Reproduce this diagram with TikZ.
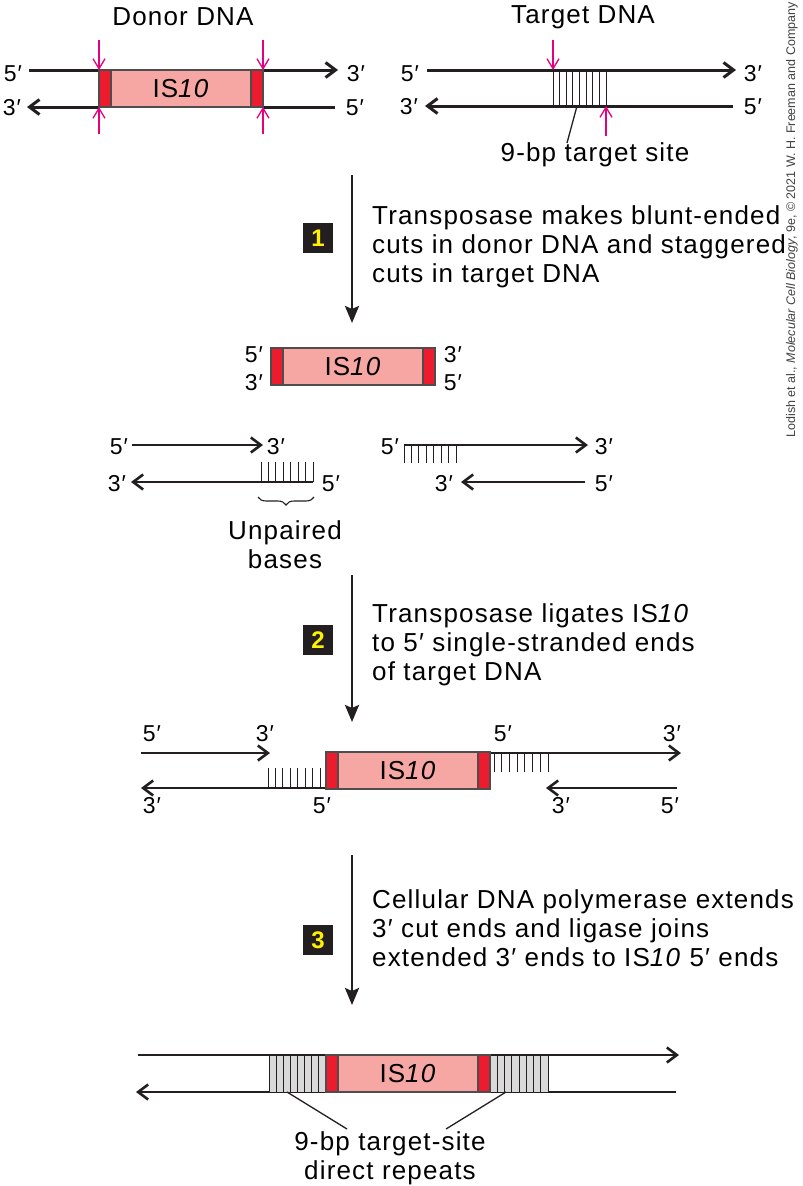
\documentclass[tikz,border=0pt]{standalone}
\usepackage{fontspec}
\setmainfont{Liberation Sans}[LetterSpace=4.5]
\newfontfamily\creditfont{Liberation Sans}
\usetikzlibrary{arrows.meta,decorations.pathreplacing}

\definecolor{ispink}{HTML}{F7A7A3}
\definecolor{isred}{HTML}{EC1C2E}
\definecolor{cutmag}{HTML}{E5007E}
\definecolor{numboxfill}{HTML}{231F20}
\definecolor{numtxt}{HTML}{FFF200}
\definecolor{dupgray}{HTML}{D9D9D9}
\definecolor{ink}{HTML}{231F20}

\tikzset{
  txt/.style={font=\fontsize{26}{29}\selectfont, inner sep=0pt},
  lab/.style={font=\fontsize{23}{26}\selectfont, inner sep=0pt},
  steptext/.style={txt, align=left, anchor=north west},
  strand/.style={draw=ink, line width=3pt},
  thinstrand/.style={draw=ink, line width=2.6pt},
  head/.style={-{Straight Barb[length=10pt,width=15pt]}},
  hatch/.style={draw=ink, line width=1pt},
  cutarrow/.style={draw=cutmag, line width=1.3pt, -{Straight Barb[length=10pt,width=12pt]}},
  stepline/.style={draw=ink, line width=2.6pt, -{Stealth[length=17pt,width=14pt,inset=3pt]}},
  numbox/.style={fill=numboxfill, text=numtxt, minimum size=30pt, inner sep=0pt,
                 font=\fontsize{24}{24}\selectfont\bfseries},
  boxedge/.style={draw=ink!80, line width=1.2pt},
  istext/.style={txt},
  credit/.style={font=\creditfont\fontsize{12.5}{12.5}\selectfont, text=ink!85, rotate=90, inner sep=0pt},
  pointer/.style={draw=ink, line width=1.3pt},
}

% IS10 element: #1 name, #2 left x, #3 top y, #4 bottom y
\newcommand\ISelement[4]{%
  \fill[ispink] ({#2+12},#3) rectangle ({#2+152},#4);
  \fill[isred] (#2,#3) rectangle ({#2+12},#4);
  \fill[isred] ({#2+152},#3) rectangle ({#2+164},#4);
  \draw[boxedge] (#2,#3) rectangle ({#2+164},#4);
  \draw[boxedge] ({#2+12},#3) -- ({#2+12},#4) ({#2+152},#3) -- ({#2+152},#4);
  \node[istext] (#1) at ({#2+82},{(#3+#4)/2}) {IS\textit{10}};
}

\begin{document}
\begin{tikzpicture}[x=1pt,y=-1pt]
\fill[white] (0,0) rectangle (803,1186);
\useasboundingbox (0,0) rectangle (803,1186);

% ---------- donor and target DNA ----------
\node[txt] (donorT) at (183,17) {Donor DNA};
\node[txt] (targetT) at (583,17) {Target DNA};

\draw[strand] (29,70) -- (99,70);
\draw[strand,head] (263,70) -- (338,70);
\draw[strand,head] (99,107) -- (27,107);
\draw[strand] (263,107) -- (335,107);
\ISelement{donorIS}{99}{70}{107}
\node[lab] (d5a) at (13,74) {5′};
\node[lab] (d3a) at (12,108) {3′};
\node[lab] (d3b) at (356,74) {3′};
\node[lab] (d5b) at (355,108) {5′};
\draw[cutarrow] (99,40) -- (99,70);
\draw[cutarrow] (263,40) -- (263,70);
\draw[cutarrow] (99,134) -- (99,107);
\draw[cutarrow] (263,134) -- (263,107);

\foreach \i in {0,...,8} \draw[hatch] ({553+\i*53/8},70) -- ++(0,36);
\draw[strand,head] (427,70) -- (736,70);
\draw[strand,head] (733,106) -- (425,106);
\node[lab] (t5a) at (410,74) {5′};
\node[lab] (t3a) at (409,107) {3′};
\node[lab] (t3b) at (753,74) {3′};
\node[lab] (t5b) at (753,107) {5′};
\draw[cutarrow] (553,40) -- (553,70);
\draw[cutarrow] (606,136) -- (606,106);
\node[txt] (siteL) at (595,155) {9-bp target site};
\coordinate (siteP) at (577,106);
\draw[pointer] (siteP) -- (567,143);

% ---------- step 1 ----------
\draw[stepline] (352,175) -- (352,323);
\node[numbox] (n1) at (318,238) {1};
\node[steptext] (s1) at (372,205) {Transposase makes blunt-ended\\cuts in donor DNA and staggered\\cuts in target DNA};

\ISelement{freeIS}{271}{348}{385}
\node[lab] (f5a) at (254,355) {5′};
\node[lab] (f3a) at (254,383) {3′};
\node[lab] (f3b) at (453,355) {3′};
\node[lab] (f5b) at (453,383) {5′};

% cut donor ends
\foreach \i in {0,...,7} \draw[hatch] ({261+\i*52/7},462) -- ({261+\i*52/7},482);
\draw[thinstrand,head] (132,445) -- (263,445);
\draw[thinstrand,head] (313,482) -- (131,482);
\node[lab] (c5a) at (119,447) {5′};
\node[lab] (c3a) at (276,447) {3′};
\node[lab] (c3b) at (117,484) {3′};
\node[lab] (c5b) at (331,484) {5′};
\draw[decorate, decoration={brace, mirror, amplitude=8pt}, line width=1.1pt, draw=ink]
  (258,497) -- (314,497);
\node[txt, align=center] (unp) at (285,545) {Unpaired\\bases};

% cut target ends
\foreach \i in {0,...,7} \draw[hatch] ({404+\i*52/7},445) -- ({404+\i*52/7},463);
\draw[thinstrand,head] (404,445) -- (588,445);
\draw[thinstrand,head] (585,482) -- (461,482);
\node[lab] (e5a) at (390,447) {5′};
\node[lab] (e3a) at (604,447) {3′};
\node[lab] (e3b) at (444,484) {3′};
\node[lab] (e5b) at (604,484) {5′};

% ---------- step 2 ----------
\draw[stepline] (352,575) -- (352,722);
\node[numbox] (n2) at (318,640) {2};
\node[steptext] (s2) at (372,603) {Transposase ligates IS\textit{10}\\to 5′ single-stranded ends\\of target DNA};

\foreach \i in {0,...,7} \draw[hatch] ({268+\i*52/7},768) -- ({268+\i*52/7},788);
\foreach \i in {0,...,7} \draw[hatch] ({494+\i*54/7},753) -- ({494+\i*54/7},772);
\draw[thinstrand,head] (141,753) -- (270,753);
\draw[thinstrand,head] (326,788) -- (141,788);
\draw[thinstrand,head] (490,753) -- (681,753);
\draw[thinstrand,head] (677,788) -- (546,788);
\ISelement{joinIS}{326}{752}{789}
\node[lab] (j5a) at (152,734) {5′};
\node[lab] (j3a) at (265,734) {3′};
\node[lab] (j5b) at (503,734) {5′};
\node[lab] (j3b) at (672,734) {3′};
\node[lab] (j3c) at (152,806) {3′};
\node[lab] (j5c) at (322,806) {5′};
\node[lab] (j3d) at (561,806) {3′};
\node[lab] (j5d) at (670,806) {5′};

% ---------- step 3 ----------
\draw[stepline] (352,855) -- (352,1005);
\node[numbox] (n3) at (318,940) {3};
\node[steptext] (s3) at (372,889) {Cellular DNA polymerase extends\\3′ cut ends and ligase joins\\extended 3′ ends to IS\textit{10} 5′ ends};

\draw[thinstrand,head] (138,1055) -- (679,1055);
\draw[thinstrand,head] (676,1092) -- (136,1092);
\filldraw[fill=dupgray, draw=ink, line width=1pt] (269,1055) rectangle (326,1092);
\filldraw[fill=dupgray, draw=ink, line width=1pt] (490,1055) rectangle (548,1092);
\foreach \i in {1,...,7} \draw[hatch] ({269+\i*57/8},1055) -- ({269+\i*57/8},1092);
\foreach \i in {1,...,7} \draw[hatch] ({490+\i*58/8},1055) -- ({490+\i*58/8},1092);
\ISelement{finalIS}{326}{1055}{1092}
\coordinate (repL) at (287,1092);
\coordinate (repR) at (506,1092);
\draw[pointer] (repL) -- (347,1129);
\draw[pointer] (repR) -- (446,1129);
\node[txt, align=center] (rep) at (390,1158) {9-bp target-site\\direct repeats};

% ---------- credit line ----------
\node[credit] (credit) at (792,220) {Lodish et al., \textit{Molecular Cell Biology}, 9e, © 2021 W. H. Freeman and Company};
\end{tikzpicture}
\end{document}
